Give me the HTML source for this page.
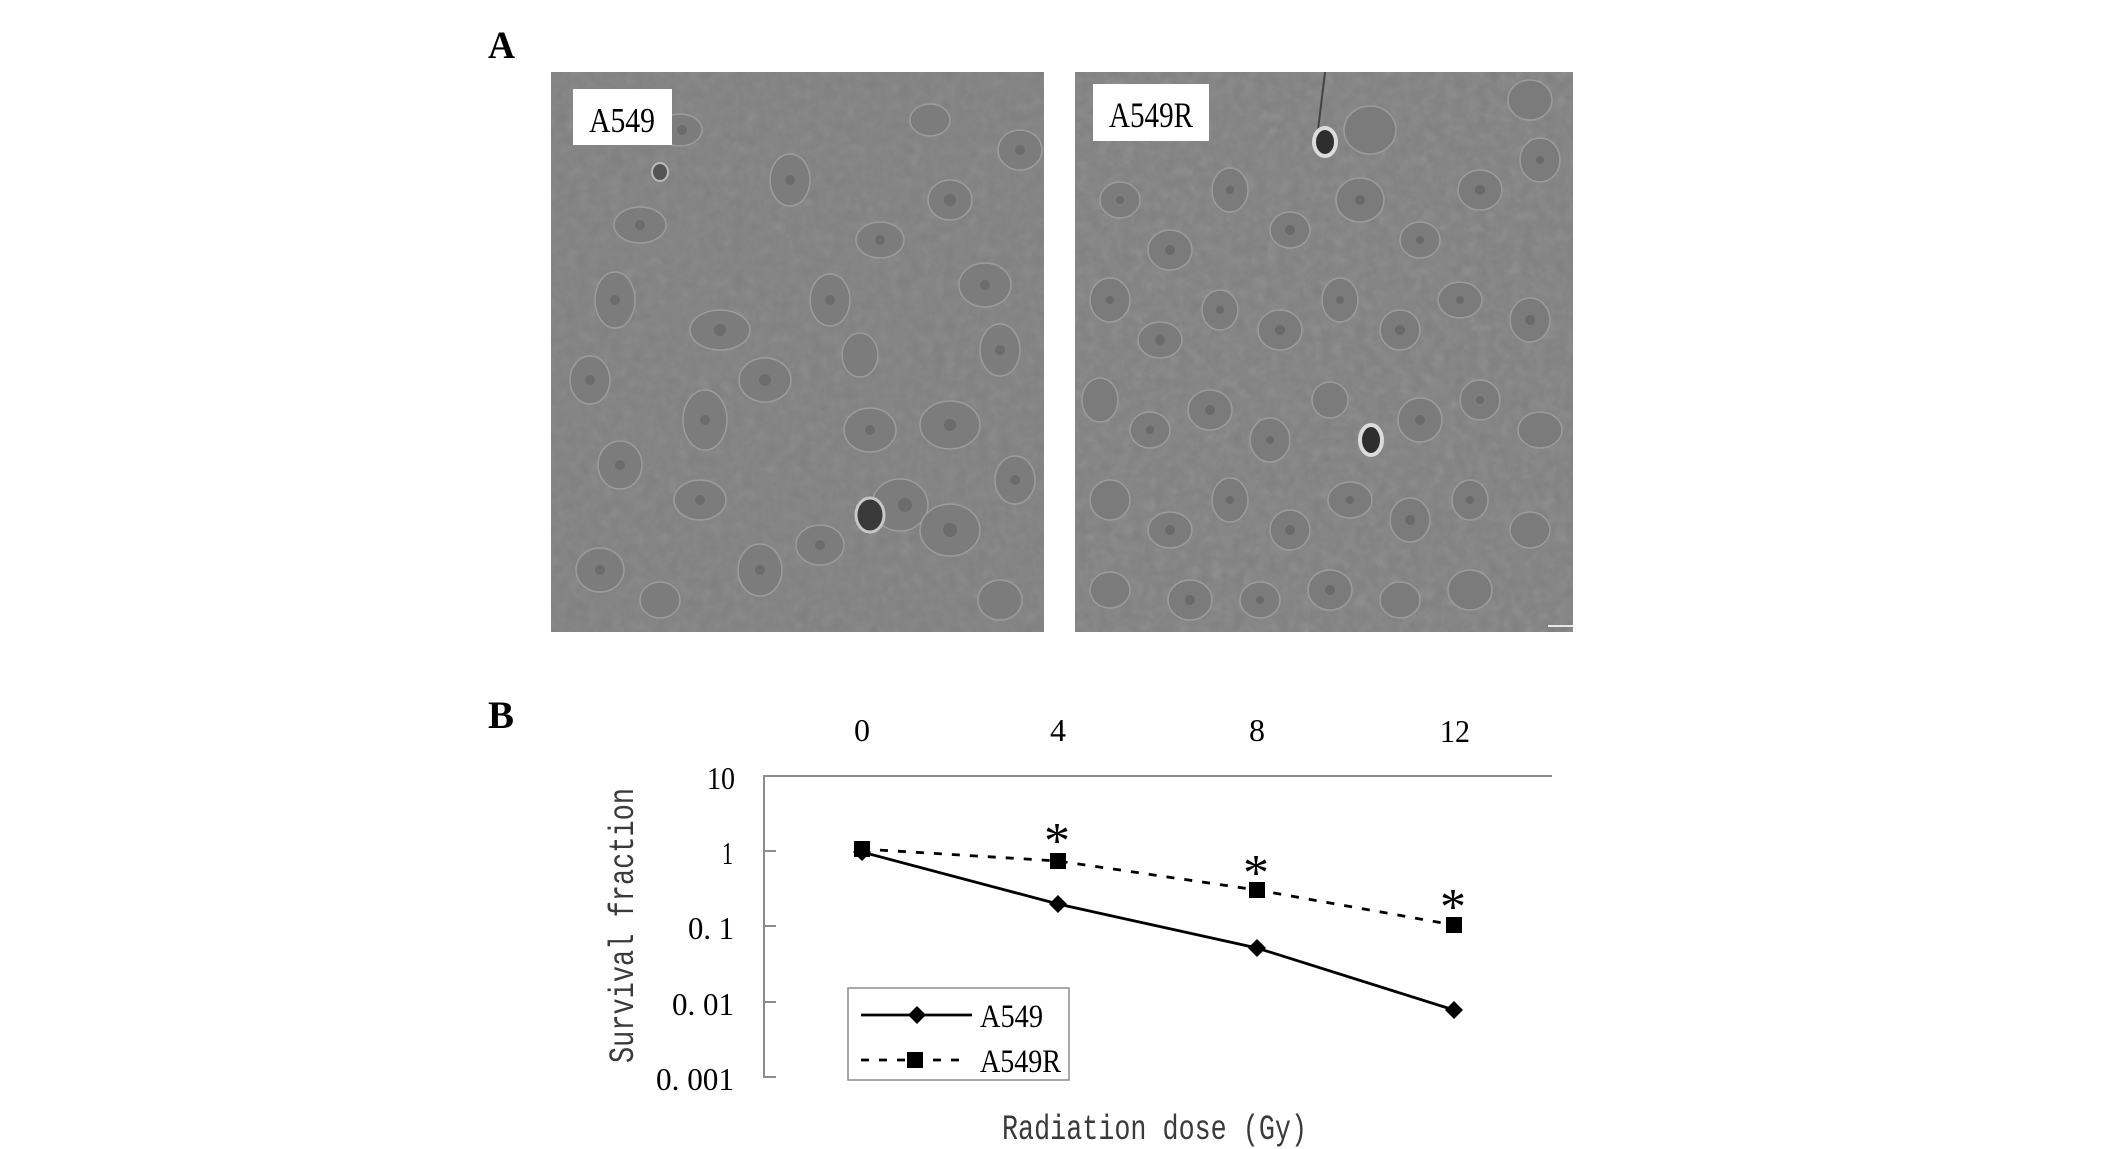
<!DOCTYPE html>
<html><head><meta charset="utf-8"><style>
html,body{margin:0;padding:0;background:#fff;}
svg{display:block;}
</style></head><body>
<svg width="2126" height="1149" viewBox="0 0 2126 1149" xmlns="http://www.w3.org/2000/svg">
<defs>
<filter id="tex" x="0" y="0" width="100%" height="100%">
<feTurbulence type="fractalNoise" baseFrequency="0.09" numOctaves="3" seed="7"/>
<feColorMatrix type="saturate" values="0"/>
</filter>
<clipPath id="cl"><rect x="551" y="72" width="493" height="560"/></clipPath>
<clipPath id="cr"><rect x="1075" y="72" width="498" height="560"/></clipPath>
</defs>
<rect width="2126" height="1149" fill="#fff"/>

<!-- Panel labels -->
<text x="488" y="58" font-family="Liberation Serif, serif" font-weight="bold" font-size="39" textLength="27" lengthAdjust="spacingAndGlyphs">A</text>
<text x="488" y="728" font-family="Liberation Serif, serif" font-weight="bold" font-size="39" textLength="26" lengthAdjust="spacingAndGlyphs">B</text>

<!-- Left photo -->
<g clip-path="url(#cl)">
<rect x="551" y="72" width="493" height="560" fill="#808080"/>
<rect x="551" y="72" width="493" height="560" filter="url(#tex)" opacity="0.16"/>
<g fill="#7c7c7c" stroke="#9c9c9c" stroke-width="1.5">
<ellipse cx="680" cy="130" rx="22" ry="16"/><ellipse cx="640" cy="225" rx="26" ry="18"/>
<ellipse cx="615" cy="300" rx="20" ry="28"/><ellipse cx="720" cy="330" rx="30" ry="20"/>
<ellipse cx="705" cy="420" rx="22" ry="30"/><ellipse cx="765" cy="380" rx="26" ry="22"/>
<ellipse cx="830" cy="300" rx="20" ry="26"/><ellipse cx="880" cy="240" rx="24" ry="18"/>
<ellipse cx="950" cy="200" rx="22" ry="20"/><ellipse cx="985" cy="285" rx="26" ry="22"/>
<ellipse cx="1000" cy="350" rx="20" ry="26"/><ellipse cx="950" cy="425" rx="30" ry="24"/>
<ellipse cx="870" cy="430" rx="26" ry="22"/><ellipse cx="900" cy="505" rx="28" ry="26"/>
<ellipse cx="820" cy="545" rx="24" ry="20"/><ellipse cx="760" cy="570" rx="22" ry="26"/>
<ellipse cx="700" cy="500" rx="26" ry="20"/><ellipse cx="620" cy="465" rx="22" ry="24"/>
<ellipse cx="600" cy="570" rx="24" ry="22"/><ellipse cx="950" cy="530" rx="30" ry="26"/>
<ellipse cx="1015" cy="480" rx="20" ry="24"/><ellipse cx="860" cy="355" rx="18" ry="22"/>
<ellipse cx="590" cy="380" rx="20" ry="24"/><ellipse cx="1020" cy="150" rx="22" ry="20"/>
<ellipse cx="790" cy="180" rx="20" ry="26"/><ellipse cx="930" cy="120" rx="20" ry="16"/>
<ellipse cx="660" cy="600" rx="20" ry="18"/><ellipse cx="1000" cy="600" rx="22" ry="20"/>
</g>
<g fill="#6c6c6c">
<circle cx="682" cy="130" r="5"/><circle cx="640" cy="225" r="5"/><circle cx="615" cy="300" r="5"/>
<circle cx="720" cy="330" r="6"/><circle cx="705" cy="420" r="5"/><circle cx="765" cy="380" r="6"/>
<circle cx="830" cy="300" r="5"/><circle cx="880" cy="240" r="5"/><circle cx="950" cy="200" r="6"/>
<circle cx="985" cy="285" r="5"/><circle cx="1000" cy="350" r="5"/><circle cx="950" cy="425" r="6"/>
<circle cx="870" cy="430" r="5"/><circle cx="905" cy="505" r="7"/><circle cx="820" cy="545" r="5"/>
<circle cx="760" cy="570" r="5"/><circle cx="700" cy="500" r="5"/><circle cx="620" cy="465" r="5"/>
<circle cx="600" cy="570" r="5"/><circle cx="950" cy="530" r="7"/><circle cx="1015" cy="480" r="5"/>
<circle cx="590" cy="380" r="5"/><circle cx="1020" cy="150" r="5"/><circle cx="790" cy="180" r="5"/>
</g>
<ellipse cx="870" cy="515" rx="14" ry="17" fill="#3a3a3a" stroke="#c8c8c8" stroke-width="3"/>
<ellipse cx="660" cy="172" rx="8" ry="9" fill="#555" stroke="#bbb" stroke-width="2"/>
<rect x="573" y="89" width="99" height="56" fill="#fff"/>
<text x="589" y="132" font-family="Liberation Serif, serif" font-size="35" textLength="66" lengthAdjust="spacingAndGlyphs">A549</text>
</g>

<!-- Right photo -->
<g clip-path="url(#cr)">
<rect x="1075" y="72" width="498" height="560" fill="#808080"/>
<rect x="1075" y="72" width="498" height="560" filter="url(#tex)" opacity="0.2"/>
<g fill="#7b7b7b" stroke="#9c9c9c" stroke-width="1.5">
<ellipse cx="1120" cy="200" rx="20" ry="18"/><ellipse cx="1170" cy="250" rx="22" ry="20"/>
<ellipse cx="1230" cy="190" rx="18" ry="22"/><ellipse cx="1290" cy="230" rx="20" ry="18"/>
<ellipse cx="1360" cy="200" rx="24" ry="22"/><ellipse cx="1420" cy="240" rx="20" ry="18"/>
<ellipse cx="1480" cy="190" rx="22" ry="20"/><ellipse cx="1540" cy="160" rx="20" ry="22"/>
<ellipse cx="1110" cy="300" rx="20" ry="22"/><ellipse cx="1160" cy="340" rx="22" ry="18"/>
<ellipse cx="1220" cy="310" rx="18" ry="20"/><ellipse cx="1280" cy="330" rx="22" ry="20"/>
<ellipse cx="1340" cy="300" rx="18" ry="22"/><ellipse cx="1400" cy="330" rx="20" ry="20"/>
<ellipse cx="1460" cy="300" rx="22" ry="18"/><ellipse cx="1530" cy="320" rx="20" ry="22"/>
<ellipse cx="1100" cy="400" rx="18" ry="22"/><ellipse cx="1150" cy="430" rx="20" ry="18"/>
<ellipse cx="1210" cy="410" rx="22" ry="20"/><ellipse cx="1270" cy="440" rx="20" ry="22"/>
<ellipse cx="1330" cy="400" rx="18" ry="18"/><ellipse cx="1420" cy="420" rx="22" ry="22"/>
<ellipse cx="1480" cy="400" rx="20" ry="20"/><ellipse cx="1540" cy="430" rx="22" ry="18"/>
<ellipse cx="1110" cy="500" rx="20" ry="20"/><ellipse cx="1170" cy="530" rx="22" ry="18"/>
<ellipse cx="1230" cy="500" rx="18" ry="22"/><ellipse cx="1290" cy="530" rx="20" ry="20"/>
<ellipse cx="1350" cy="500" rx="22" ry="18"/><ellipse cx="1410" cy="520" rx="20" ry="22"/>
<ellipse cx="1470" cy="500" rx="18" ry="20"/><ellipse cx="1530" cy="530" rx="20" ry="18"/>
<ellipse cx="1110" cy="590" rx="20" ry="18"/><ellipse cx="1190" cy="600" rx="22" ry="20"/>
<ellipse cx="1260" cy="600" rx="20" ry="18"/><ellipse cx="1330" cy="590" rx="22" ry="20"/>
<ellipse cx="1400" cy="600" rx="20" ry="18"/><ellipse cx="1470" cy="590" rx="22" ry="20"/>
<ellipse cx="1370" cy="130" rx="26" ry="24"/><ellipse cx="1530" cy="100" rx="22" ry="20"/>
</g>
<g fill="#6a6a6a">
<circle cx="1120" cy="200" r="4"/><circle cx="1170" cy="250" r="5"/><circle cx="1230" cy="190" r="4"/>
<circle cx="1290" cy="230" r="5"/><circle cx="1360" cy="200" r="5"/><circle cx="1420" cy="240" r="4"/>
<circle cx="1480" cy="190" r="5"/><circle cx="1540" cy="160" r="4"/><circle cx="1110" cy="300" r="4"/>
<circle cx="1160" cy="340" r="5"/><circle cx="1220" cy="310" r="4"/><circle cx="1280" cy="330" r="5"/>
<circle cx="1340" cy="300" r="4"/><circle cx="1400" cy="330" r="5"/><circle cx="1460" cy="300" r="4"/>
<circle cx="1530" cy="320" r="5"/><circle cx="1150" cy="430" r="4"/><circle cx="1210" cy="410" r="5"/>
<circle cx="1270" cy="440" r="4"/><circle cx="1420" cy="420" r="5"/><circle cx="1480" cy="400" r="4"/>
<circle cx="1170" cy="530" r="5"/><circle cx="1230" cy="500" r="4"/><circle cx="1290" cy="530" r="5"/>
<circle cx="1350" cy="500" r="4"/><circle cx="1410" cy="520" r="5"/><circle cx="1470" cy="500" r="4"/>
<circle cx="1190" cy="600" r="5"/><circle cx="1260" cy="600" r="4"/><circle cx="1330" cy="590" r="5"/>
</g>
<line x1="1318" y1="130" x2="1325" y2="72" stroke="#444" stroke-width="2"/>
<ellipse cx="1325" cy="142" rx="11" ry="14" fill="#2e2e2e" stroke="#dcdcdc" stroke-width="4"/>
<ellipse cx="1371" cy="440" rx="11" ry="15" fill="#2e2e2e" stroke="#dcdcdc" stroke-width="4"/>
<line x1="1548" y1="626" x2="1573" y2="626" stroke="#e8e8e8" stroke-width="2"/>
<rect x="1093" y="84" width="116" height="57" fill="#fff"/>
<text x="1109" y="127" font-family="Liberation Serif, serif" font-size="36" textLength="84" lengthAdjust="spacingAndGlyphs">A549R</text>
</g>

<!-- Chart B -->
<g font-family="Liberation Serif, serif" fill="#000">
<text x="862" y="741" font-size="32" text-anchor="middle">0</text>
<text x="1058" y="741" font-size="32" text-anchor="middle">4</text>
<text x="1257" y="741" font-size="32" text-anchor="middle">8</text>
<text x="1440" y="742" font-size="32" textLength="30" lengthAdjust="spacingAndGlyphs">12</text>

<text x="707" y="789" font-size="32" textLength="28" lengthAdjust="spacingAndGlyphs">10</text>
<text x="722" y="864" font-size="32" textLength="11" lengthAdjust="spacingAndGlyphs">1</text>
<text x="688" y="939" font-size="32" textLength="46" lengthAdjust="spacingAndGlyphs">0. 1</text>
<text x="672" y="1015" font-size="32" textLength="62" lengthAdjust="spacingAndGlyphs">0. 01</text>
<text x="656" y="1090" font-size="32" textLength="78" lengthAdjust="spacingAndGlyphs">0. 001</text>
</g>

<g stroke="#8c8c8c" stroke-width="2" fill="none">
<line x1="764" y1="776" x2="1552" y2="776"/>
<line x1="764" y1="775" x2="764" y2="1078"/>
<line x1="764" y1="851" x2="776" y2="851"/>
<line x1="764" y1="926" x2="776" y2="926"/>
<line x1="764" y1="1002" x2="776" y2="1002"/>
<line x1="764" y1="1077" x2="776" y2="1077"/>
</g>

<text transform="translate(633,1063) rotate(-90)" font-family="Liberation Mono, monospace" font-size="35" fill="#3a3a3a" textLength="275" lengthAdjust="spacingAndGlyphs">Survival fraction</text>
<text x="1002" y="1139" font-family="Liberation Mono, monospace" font-size="35" fill="#3a3a3a" textLength="305" lengthAdjust="spacingAndGlyphs">Radiation dose (Gy)</text>

<!-- series -->
<polyline points="862,852 1058,904 1257,948 1454,1010" fill="none" stroke="#000" stroke-width="2.8"/>
<polyline points="862,849 1058,861 1257,890 1454,925" fill="none" stroke="#000" stroke-width="2.8" stroke-dasharray="8 10"/>
<g fill="#000">
<path d="M862 843 L871 852 L862 861 L853 852Z"/>
<path d="M1058 895 L1067 904 L1058 913 L1049 904Z"/>
<path d="M1257 939 L1266 948 L1257 957 L1248 948Z"/>
<path d="M1454 1001 L1463 1010 L1454 1019 L1445 1010Z"/>
<rect x="854" y="841" width="16" height="16"/>
<rect x="1050" y="853" width="16" height="16"/>
<rect x="1249" y="882" width="16" height="16"/>
<rect x="1446" y="917" width="16" height="16"/>
</g>
<g font-family="Liberation Serif, serif" font-size="52" text-anchor="middle" fill="#000">
<text x="1057" y="858">*</text>
<text x="1256" y="890">*</text>
<text x="1453" y="924">*</text>
</g>

<!-- legend -->
<rect x="848" y="988" width="221" height="92" fill="#fff" stroke="#8c8c8c" stroke-width="1.5"/>
<line x1="861" y1="1015" x2="972" y2="1015" stroke="#000" stroke-width="2.8"/>
<path d="M917 1006 L926 1015 L917 1024 L908 1015Z" fill="#000"/>
<line x1="861" y1="1060" x2="968" y2="1060" stroke="#000" stroke-width="2.8" stroke-dasharray="8 10"/>
<rect x="907" y="1052" width="16" height="16" fill="#000"/>
<text x="980" y="1027" font-family="Liberation Serif, serif" font-size="33" textLength="63" lengthAdjust="spacingAndGlyphs">A549</text>
<text x="980" y="1072" font-family="Liberation Serif, serif" font-size="33" textLength="81" lengthAdjust="spacingAndGlyphs">A549R</text>
</svg>
</body></html>
